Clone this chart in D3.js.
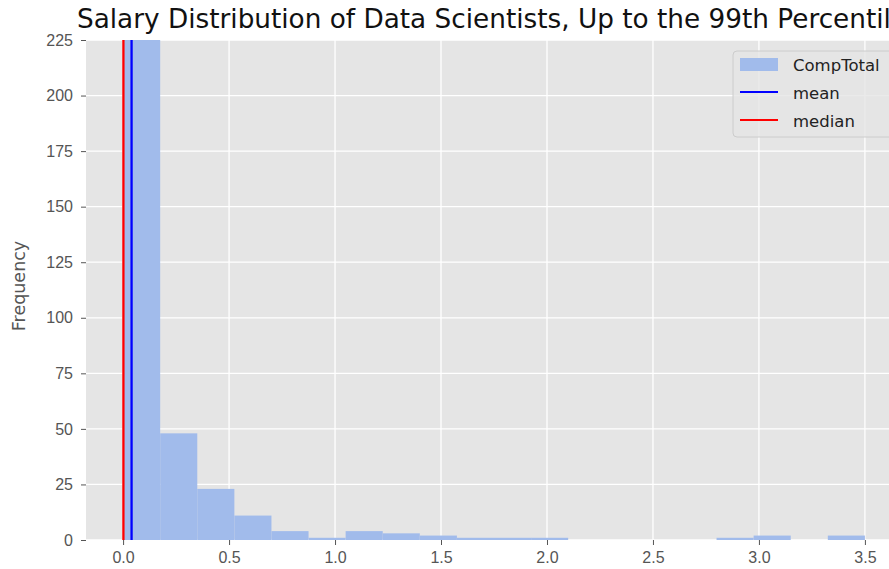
<!DOCTYPE html>
<html>
<head>
<meta charset="utf-8">
<script src="https://cdn.jsdelivr.net/npm/d3@7"></script>
<style>
  body { margin: 0; background: #fff; }
  svg { display: block; font-family: "DejaVu Sans", sans-serif; }
  .tick text { fill: #555; }
  .tick line { stroke: #555; }
  .domain { display: none; }
</style>
</head>
<body>
<svg id="chart"></svg>
<script>
const width = 889, height = 569;

// histogram bins (x in units of 1e7), 20 equal bins from 0 to 3.5
const binEdges = [0, 0.175, 0.35, 0.525, 0.7, 0.875, 1.05, 1.225, 1.4, 1.575, 1.75,
                  1.925, 2.1, 2.275, 2.45, 2.625, 2.8, 2.975, 3.15, 3.325, 3.5];
const binCounts = [2060, 48, 23, 11, 4, 1, 4, 3, 2, 1, 1, 1, 0, 0, 0, 0, 1, 2, 0, 2];

const meanValue = 0.04;
const medianValue = 0.0015;

const xTicks = [0, 0.5, 1.0, 1.5, 2.0, 2.5, 3.0, 3.5];
const yTicks = [0, 25, 50, 75, 100, 125, 150, 175, 200, 225];

const title = "Salary Distribution of Data Scientists, Up to the 99th Percentile";
const legendItems = ["CompTotal", "mean", "median"];

const margin = {left: 86, top: 40, bottom: 29};
const plotRight = 902;

const svg = d3.select("#chart").attr("width", width).attr("height", height);

const x = d3.scaleLinear().domain([-0.175, 3.675]).range([margin.left, plotRight]);
const y = d3.scaleLinear().domain([0, 225]).range([height - margin.bottom, margin.top]);

svg.append("defs").append("clipPath").attr("id", "plotclip")
  .append("rect")
    .attr("x", margin.left).attr("y", margin.top)
    .attr("width", plotRight - margin.left).attr("height", y(0) - margin.top);

// background
svg.append("rect")
    .attr("x", margin.left).attr("y", margin.top)
    .attr("width", plotRight - margin.left).attr("height", y(0) - margin.top)
    .attr("fill", "#e5e5e5");

// grid
const grid = svg.append("g").attr("stroke", "#fff").attr("stroke-width", 1.3);
grid.selectAll(".gx").data(xTicks).join("line")
    .attr("x1", d => x(d)).attr("x2", d => x(d))
    .attr("y1", margin.top).attr("y2", y(0));
grid.selectAll(".gy").data(yTicks).join("line")
    .attr("x1", margin.left).attr("x2", plotRight)
    .attr("y1", d => y(d)).attr("y2", d => y(d));

// bars
const bins = binCounts.map((c, i) => ({x0: binEdges[i], x1: binEdges[i + 1], count: c}));
svg.append("g").attr("clip-path", "url(#plotclip)")
  .selectAll("rect")
  .data(bins)
  .join("rect")
    .attr("x", d => x(d.x0))
    .attr("width", d => x(d.x1) - x(d.x0))
    .attr("y", d => y(d.count))
    .attr("height", d => y(0) - y(d.count))
    .attr("fill", "#a1bbeb");

// mean / median lines
svg.append("line")
    .attr("x1", x(medianValue)).attr("x2", x(medianValue))
    .attr("y1", margin.top).attr("y2", y(0))
    .attr("stroke", "red").attr("stroke-width", 2.3);
svg.append("line")
    .attr("x1", x(meanValue)).attr("x2", x(meanValue))
    .attr("y1", margin.top).attr("y2", y(0))
    .attr("stroke", "blue").attr("stroke-width", 2.3);

// axes
svg.append("g")
    .attr("transform", `translate(0,${y(0)})`)
    .call(d3.axisBottom(x).tickValues(xTicks).tickFormat(d3.format(".1f")).tickSize(5).tickPadding(7))
    .call(g => g.selectAll("text").style("font-size", "16px"));

svg.append("g")
    .attr("transform", `translate(${margin.left},0)`)
    .call(d3.axisLeft(y).tickValues(yTicks).tickSize(5).tickPadding(8))
    .call(g => g.selectAll("text").style("font-size", "16px"));

// y label
svg.append("text")
    .attr("transform", `translate(25,${(margin.top + y(0)) / 2 - 4}) rotate(-90)`)
    .attr("text-anchor", "middle")
    .attr("fill", "#555")
    .style("font-size", "17.5px")
    .text("Frequency");

// title (runs past the right edge, as in the original)
svg.append("text")
    .attr("x", 77).attr("y", 28)
    .attr("fill", "#111")
    .style("font-size", "26.3px")
    .text(title);

// legend
const lg = svg.append("g").attr("transform", "translate(733,51)");
lg.append("rect")
    .attr("width", 170).attr("height", 86).attr("rx", 4)
    .attr("fill", "#e5e5e5").attr("fill-opacity", 0.8)
    .attr("stroke", "#ccc");
lg.append("rect").attr("x", 7).attr("y", 7).attr("width", 38).attr("height", 13).attr("fill", "#a1bbeb");
lg.append("line").attr("x1", 7).attr("x2", 45).attr("y1", 41).attr("y2", 41).attr("stroke", "blue").attr("stroke-width", 2);
lg.append("line").attr("x1", 7).attr("x2", 45).attr("y1", 69).attr("y2", 69).attr("stroke", "red").attr("stroke-width", 2);
lg.selectAll("text.lab").data(legendItems).join("text")
    .attr("x", 60)
    .attr("y", (d, i) => 20 + i * 28)
    .attr("fill", "#222")
    .style("font-size", "16.5px")
    .text(d => d);
</script>
</body>
</html>
